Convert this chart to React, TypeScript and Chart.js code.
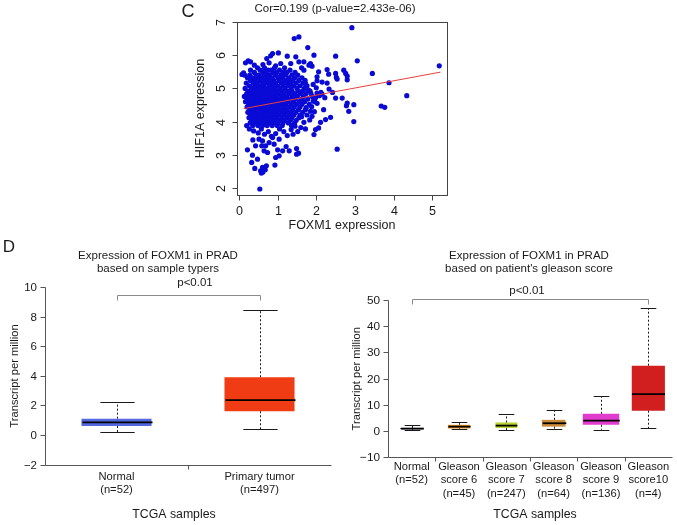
import React, { useEffect, useRef } from 'react';
import { Chart, registerables } from 'chart.js';

Chart.register(...registerables);

const FONT = '"Liberation Sans", Arial, Helvetica, sans-serif';
const W = 677;
const H = 525;

// ---------------- Panel C : scatter ----------------
const panelCLetter = 'C';
const corTitle = 'Cor=0.199 (p-value=2.433e-06)';
const cXLabel = 'FOXM1 expression';
const cYLabel = 'HIF1A expression';
const cXTicks = [0, 1, 2, 3, 4, 5];
const cYTicks = [2, 3, 4, 5, 6, 7];

// dense core, grouped by HIF1A value: [hif1a, foxm1 values]
const coreRows: [number, number[]][] = [
  [5.62, [0.48, 0.66, 0.92, 1.18]],
  [5.55, [0.30, 0.55, 0.75, 0.83, 1.05, 1.32]],
  [5.48, [0.40, 0.62, 0.70, 0.88, 0.97, 1.15, 1.24, 1.45]],
  [5.40, [0.28, 0.45, 0.52, 0.66, 0.79, 0.94, 1.08, 1.20, 1.37, 1.52]],
  [5.32, [0.22, 0.35, 0.49, 0.60, 0.73, 0.85, 1.01, 1.12, 1.29, 1.44, 1.63]],
  [5.24, [0.30, 0.42, 0.55, 0.68, 0.77, 0.90, 1.04, 1.17, 1.26, 1.39, 1.55, 1.71]],
  [5.16, [0.19, 0.37, 0.47, 0.61, 0.72, 0.83, 0.95, 1.10, 1.22, 1.33, 1.48, 1.66]],
  [5.08, [0.27, 0.41, 0.52, 0.64, 0.79, 0.88, 1.00, 1.14, 1.28, 1.41, 1.58, 1.76]],
  [5.00, [0.16, 0.33, 0.45, 0.57, 0.69, 0.81, 0.93, 1.06, 1.19, 1.35, 1.50, 1.69]],
  [4.92, [0.24, 0.38, 0.50, 0.62, 0.74, 0.86, 0.98, 1.11, 1.25, 1.37, 1.53, 1.64, 1.84]],
  [4.84, [0.20, 0.31, 0.44, 0.55, 0.67, 0.79, 0.91, 1.03, 1.16, 1.30, 1.44, 1.59, 1.73]],
  [4.76, [0.14, 0.27, 0.39, 0.51, 0.63, 0.75, 0.87, 0.99, 1.12, 1.24, 1.38, 1.51, 1.67, 1.90]],
  [4.68, [0.22, 0.35, 0.47, 0.58, 0.70, 0.82, 0.94, 1.07, 1.19, 1.33, 1.46, 1.62, 1.78]],
  [4.60, [0.17, 0.30, 0.42, 0.54, 0.66, 0.78, 0.90, 1.02, 1.15, 1.27, 1.41, 1.56, 1.70, 1.96]],
  [4.52, [0.25, 0.37, 0.49, 0.61, 0.72, 0.84, 0.97, 1.09, 1.21, 1.35, 1.49, 1.63, 1.82]],
  [4.44, [0.21, 0.33, 0.45, 0.57, 0.68, 0.80, 0.92, 1.04, 1.17, 1.30, 1.43, 1.58]],
  [4.36, [0.28, 0.40, 0.52, 0.64, 0.76, 0.88, 1.00, 1.13, 1.25, 1.39, 1.54, 1.72]],
  [4.28, [0.23, 0.35, 0.47, 0.59, 0.71, 0.83, 0.95, 1.08, 1.21, 1.34, 1.47, 1.65]],
  [4.20, [0.30, 0.42, 0.54, 0.66, 0.78, 0.90, 1.03, 1.16, 1.29, 1.42, 1.58]],
  [4.12, [0.26, 0.38, 0.50, 0.62, 0.74, 0.86, 0.98, 1.11, 1.24, 1.37, 1.55]],
  [4.04, [0.33, 0.45, 0.57, 0.69, 0.81, 0.93, 1.06, 1.19, 1.33, 1.48]],
  [3.96, [0.29, 0.41, 0.53, 0.65, 0.77, 0.89, 1.01, 1.14, 1.28, 1.44]],
  [3.88, [0.36, 0.49, 0.61, 0.73, 0.86, 0.99, 1.12, 1.36]],
];

// scattered points: [foxm1, hif1a]
const extraPoints: [number, number][] = [
  [2.92, 6.83], [1.43, 6.50], [1.55, 6.55], [1.78, 6.23], [0.87, 6.05], [1.02, 6.07],
  [1.25, 5.97], [1.47, 5.95], [0.30, 5.80], [0.24, 5.83], [0.17, 5.77], [0.12, 5.47],
  [0.08, 5.42], [0.15, 5.40], [0.78, 5.77], [0.95, 5.68], [1.08, 5.75], [1.34, 5.75],
  [1.55, 5.80], [1.68, 5.55], [1.94, 6.00], [2.50, 5.97], [3.06, 5.83], [1.85, 5.75],
  [1.89, 5.67], [1.81, 5.70], [1.68, 5.80], [2.06, 5.50], [2.28, 5.57], [2.32, 5.43],
  [2.50, 5.45], [2.71, 5.55], [2.76, 5.45], [2.80, 5.37], [3.45, 5.45], [2.02, 5.35],
  [2.52, 5.33], [0.40, 5.70], [0.62, 5.72], [0.72, 5.90], [0.82, 5.98], [1.62, 5.62],
  [5.18, 5.68], [3.88, 5.17], [4.34, 4.78], [3.68, 4.47], [3.77, 4.43], [2.97, 4.00],
  [2.02, 5.23], [2.15, 5.19], [2.28, 5.16], [2.54, 5.28], [2.80, 5.26], [2.02, 4.86],
  [2.15, 4.83], [2.50, 4.71], [2.67, 4.71], [2.80, 4.56], [2.84, 4.31], [2.97, 4.51],
  [2.19, 4.36], [2.37, 4.13], [2.24, 4.06], [2.11, 3.98], [1.98, 3.76], [2.06, 3.81],
  [1.94, 3.61], [1.85, 4.31], [1.89, 4.16], [2.42, 4.88], [2.33, 4.98], [2.78, 4.48],
  [1.72, 5.15], [1.80, 4.95], [1.86, 4.85], [1.92, 5.12], [1.98, 4.72], [2.02, 4.55],
  [1.88, 4.45], [2.08, 4.78], [1.95, 4.30], [1.76, 4.20], [1.83, 4.05], [1.68, 3.98],
  [1.62, 4.15], [1.74, 4.42], [1.92, 4.62], [2.12, 4.88], [2.22, 4.72], [2.00, 5.02],
  [0.20, 3.88], [0.27, 3.78], [0.38, 3.72], [0.50, 3.66], [0.58, 3.78], [0.66, 3.62],
  [0.76, 3.70], [0.84, 3.56], [0.95, 3.64], [1.05, 3.78], [1.16, 3.70], [1.25, 3.58],
  [1.35, 3.76], [1.45, 3.86], [1.52, 3.70], [1.60, 3.82], [1.72, 3.78], [1.40, 3.62],
  [0.22, 3.15], [0.36, 3.45], [0.35, 2.99], [0.33, 2.77], [0.41, 2.59], [0.48, 2.87],
  [0.61, 3.42], [0.59, 3.27], [0.65, 3.12], [0.74, 3.07], [0.69, 3.27], [0.78, 3.37],
  [0.61, 2.62], [0.65, 2.57], [0.56, 2.52], [0.71, 2.67], [0.54, 1.97], [0.95, 2.92],
  [0.93, 2.69], [1.04, 2.97], [1.00, 3.15], [0.91, 3.32], [1.04, 3.47], [0.87, 3.52],
  [1.30, 3.12], [1.49, 3.19], [1.54, 3.05], [1.49, 3.02], [0.52, 3.47], [0.43, 3.27],
  [0.62, 2.48], [1.13, 3.12], [1.22, 3.25], [2.54, 3.17], [0.58, 2.45], [0.68, 2.55],
];

const fitFoxm1 = [0.12, 5.21];
const fitHif1a = [4.39, 5.49];

// ---------------- Panel D left : sample types ----------------
const panelDLetter = 'D';
const typeTitle = ['Expression of FOXM1 in PRAD', 'based on sample typers'];
const typeLabels = [['Normal', '(n=52)'], ['Primary tumor', '(n=497)']];
const typeMin = [0.2, 0.4];
const typeQ1 = [0.6, 1.6];
const typeMed = [0.85, 2.35];
const typeQ3 = [1.1, 3.9];
const typeMax = [2.2, 8.45];
const typeYTicks = [-2, 0, 2, 4, 6, 8, 10];
const typeColors = ['#5468de', '#f03c14'];
const typeBoxFrac = [0.49, 0.49];

// ---------------- Panel D right : gleason score ----------------
const gleasonTitle = ['Expression of FOXM1 in PRAD', "based on patient's gleason score"];
const gleasonLabels = [
  ['Normal', '(n=52)'],
  ['Gleason', 'score 6', '(n=45)'],
  ['Gleason', 'score 7', '(n=247)'],
  ['Gleason', 'score 8', '(n=64)'],
  ['Gleason', 'score 9', '(n=136)'],
  ['Gleason', 'score10', '(n=4)'],
];
const gleasonMin = [0.2, 0.6, 0.3, 0.6, 0.4, 0.9];
const gleasonQ1 = [0.6, 0.9, 1.1, 1.6, 2.3, 7.7];
const gleasonMed = [0.85, 1.6, 2.0, 2.9, 3.9, 14.0];
const gleasonQ3 = [1.1, 2.3, 3.2, 4.2, 6.5, 24.9];
const gleasonMax = [2.2, 3.4, 6.3, 8.1, 13.2, 46.8];
const gleasonYTicks = [-10, 0, 10, 20, 30, 40, 50];
const gleasonColors = ['#1c2b6e', '#e08a1e', '#b8d430', '#c98a3a', '#e03ccd', '#d11f1f'];
const gleasonBoxFrac = [0.48, 0.47, 0.46, 0.5, 0.77, 0.7];

const pText = 'p<0.01';
const dXTitle = 'TCGA samples';
const dYTitle = 'Transcript per million';

function text(ctx: CanvasRenderingContext2D, s: string, x: number, y: number, size: number, align: CanvasTextAlign = 'center', color = '#1a1a1a') {
  ctx.font = `${size}px ${FONT}`;
  ctx.fillStyle = color;
  ctx.textAlign = align;
  ctx.textBaseline = 'middle';
  ctx.fillText(s, x, y);
}

function line(ctx: CanvasRenderingContext2D, x1: number, y1: number, x2: number, y2: number) {
  ctx.beginPath();
  ctx.moveTo(x1, y1);
  ctx.lineTo(x2, y2);
  ctx.stroke();
}

const scatterDecor = {
  id: 'scatterDecor',
  afterDraw(chart: any) {
    const { ctx, chartArea: a } = chart;
    const xs = chart.scales.x;
    const ys = chart.scales.y;
    ctx.save();
    ctx.strokeStyle = '#444';
    ctx.lineWidth = 1;
    const L = Math.round(a.left) + 0.5;
    const T = Math.round(a.top) + 0.5;
    const R = Math.round(a.right) + 0.5;
    const B = Math.round(a.bottom) + 0.5;
    ctx.strokeRect(L, T, R - L, B - T);
    cXTicks.forEach((v) => {
      const px = Math.round(xs.getPixelForValue(v)) + 0.5;
      line(ctx, px, B, px, B + 5);
      text(ctx, String(v), px, a.bottom + 17, 12.5);
    });
    line(ctx, Math.round(xs.getPixelForValue(cXTicks[0])) + 0.5, B, Math.round(xs.getPixelForValue(cXTicks[cXTicks.length - 1])) + 0.5, B);
    cYTicks.forEach((v) => {
      const py = Math.round(ys.getPixelForValue(v)) + 0.5;
      line(ctx, L, py, L - 5, py);
      ctx.save();
      ctx.translate(a.left - 15, py);
      ctx.rotate(-Math.PI / 2);
      text(ctx, String(v), 0, 0, 12.5);
      ctx.restore();
    });
    text(ctx, cXLabel, (a.left + a.right) / 2, a.bottom + 31, 12.5);
    ctx.save();
    ctx.translate(a.left - 36.5, (a.top + a.bottom) / 2);
    ctx.rotate(-Math.PI / 2);
    text(ctx, cYLabel, 0, 0, 12.5);
    ctx.restore();
    text(ctx, corTitle, 335, 9, 11.5);
    text(ctx, panelCLetter, 188, 12, 18);
    ctx.restore();
  },
};

interface BoxCfg {
  min: number[]; q1: number[]; med: number[]; q3: number[]; max: number[];
  boxFrac: number[]; capFrac: number; yTicks: number[]; labels: string[][];
  title: string[]; titleX: number; titleY: number[]; pX: number; pY: number;
  bracketValue: number; xTitleX: number; yTitleX: number;
  labelStart: number; labelGap: number; tickFont: number; labelFont: number;
  letter?: string;
}

function boxDecor(cfg: BoxCfg) {
  return {
    id: 'boxDecor',
    afterDatasetsDraw(chart: any) {
      const { ctx, chartArea: a } = chart;
      const xs = chart.scales.x;
      const ys = chart.scales.y;
      const n = cfg.q1.length;
      const cw = (a.right - a.left) / n;
      ctx.save();
      for (let i = 0; i < n; i++) {
        const cx = Math.round(xs.getPixelForValue(i)) + 0.5;
        const bw = cw * cfg.boxFrac[i];
        const capW = cw * cfg.capFrac;
        const yMin = ys.getPixelForValue(cfg.min[i]);
        const yQ1 = ys.getPixelForValue(cfg.q1[i]);
        const yMed = ys.getPixelForValue(cfg.med[i]);
        const yQ3 = ys.getPixelForValue(cfg.q3[i]);
        const yMax = ys.getPixelForValue(cfg.max[i]);
        ctx.strokeStyle = '#1a1a1a';
        ctx.lineWidth = 1;
        ctx.setLineDash([2, 2]);
        line(ctx, cx, yQ3, cx, yMax);
        line(ctx, cx, yQ1, cx, yMin);
        ctx.setLineDash([]);
        line(ctx, cx - capW / 2, Math.round(yMax) + 0.5, cx + capW / 2, Math.round(yMax) + 0.5);
        line(ctx, cx - capW / 2, Math.round(yMin) + 0.5, cx + capW / 2, Math.round(yMin) + 0.5);
        ctx.strokeStyle = '#000';
        ctx.lineWidth = 1.8;
        line(ctx, cx - bw / 2, yMed, cx + bw / 2, yMed);
      }
      ctx.restore();
    },
    afterDraw(chart: any) {
      const { ctx, chartArea: a } = chart;
      const xs = chart.scales.x;
      const ys = chart.scales.y;
      const n = cfg.q1.length;
      const cw = (a.right - a.left) / n;
      ctx.save();
      ctx.strokeStyle = '#555';
      ctx.lineWidth = 1;
      const L = Math.round(a.left) + 0.5;
      const B = Math.round(a.bottom) + 0.5;
      const yTop = Math.round(ys.getPixelForValue(cfg.yTicks[cfg.yTicks.length - 1])) + 0.5;
      line(ctx, L, yTop, L, B);
      line(ctx, L, B, Math.round(a.right) + 0.5, B);
      cfg.yTicks.forEach((v) => {
        const py = Math.round(ys.getPixelForValue(v)) + 0.5;
        line(ctx, L, py, L - 5, py);
        text(ctx, v < 0 ? '\u2212' + Math.abs(v) : String(v), a.left - 8, py, cfg.tickFont, 'right');
      });
      for (let i = 1; i < n; i++) {
        const px = Math.round(a.left + cw * i) + 0.5;
        line(ctx, px, B, px, B + 4);
      }
      cfg.labels.forEach((lines, i) => {
        const cx = xs.getPixelForValue(i);
        lines.forEach((s, k) => text(ctx, s, cx, a.bottom + cfg.labelStart + k * cfg.labelGap, cfg.labelFont));
      });
      text(ctx, dXTitle, cfg.xTitleX, 515, 12.3);
      ctx.save();
      ctx.translate(cfg.yTitleX, (yTop + a.bottom) / 2);
      ctx.rotate(-Math.PI / 2);
      text(ctx, dYTitle, 0, 0, 11.2);
      ctx.restore();
      cfg.title.forEach((s, k) => text(ctx, s, cfg.titleX, cfg.titleY[k], 11.5));
      text(ctx, pText, cfg.pX, cfg.pY, 11.5);
      // significance bracket between first and last group
      ctx.strokeStyle = '#8a8a8a';
      const by = Math.round(ys.getPixelForValue(cfg.bracketValue)) + 0.5;
      const x1 = Math.round(xs.getPixelForValue(0)) + 0.5;
      const x2 = Math.round(xs.getPixelForValue(n - 1)) + 0.5;
      ctx.beginPath();
      ctx.moveTo(x1, by + 5);
      ctx.lineTo(x1, by);
      ctx.lineTo(x2, by);
      ctx.lineTo(x2, by + 5);
      ctx.stroke();
      if (cfg.letter) text(ctx, cfg.letter, 9, 247, 17);
      ctx.restore();
    },
  };
}

function boxDatasets(q1: number[], q3: number[], colors: string[], frac: number[]) {
  return q1.map((_, i) => ({
    data: q1.map((v, j) => (j === i ? [v, q3[j]] : null)),
    backgroundColor: colors[i],
    borderWidth: 0,
    barPercentage: frac[i],
    categoryPercentage: 1,
    grouped: false,
  }));
}

export default function App() {
  const c1 = useRef<HTMLCanvasElement>(null);
  const c2 = useRef<HTMLCanvasElement>(null);
  const c3 = useRef<HTMLCanvasElement>(null);

  useEffect(() => {
    const points = [
      ...coreRows.flatMap(([y, xsArr]) => xsArr.map((x) => ({ x, y }))),
      ...extraPoints.map(([x, y]) => ({ x, y })),
    ];
    const scatter = new Chart(c1.current!, {
      type: 'scatter',
      data: {
        datasets: [
          {
            type: 'line',
            data: fitFoxm1.map((x, i) => ({ x, y: fitHif1a[i] })),
            borderColor: '#e8403c',
            borderWidth: 1,
            pointRadius: 0,
            order: 0,
          } as any,
          {
            data: points,
            backgroundColor: '#0a0ad6',
            borderWidth: 0,
            pointRadius: 2.6,
            order: 1,
          },
        ],
      },
      options: {
        animation: false,
        responsive: false,
        layout: { padding: { left: 237, top: 22, right: W - 447, bottom: H - 195 } },
        scales: {
          x: { type: 'linear', display: false, min: -0.05, max: 5.38 },
          y: { type: 'linear', display: false, min: 1.79, max: 7.0 },
        },
        plugins: { legend: { display: false }, tooltip: { enabled: false } },
      },
      plugins: [scatterDecor],
    });

    const types = new Chart(c2.current!, {
      type: 'bar',
      data: {
        labels: typeLabels.map((l) => l.join(' ')),
        datasets: boxDatasets(typeQ1, typeQ3, typeColors, typeBoxFrac) as any,
      },
      options: {
        animation: false,
        responsive: false,
        layout: { padding: { left: 45, top: 287, right: W - 331, bottom: H - 464.5 } },
        scales: {
          x: { type: 'category', display: false },
          y: { type: 'linear', display: false, min: -2, max: 10 },
        },
        plugins: { legend: { display: false }, tooltip: { enabled: false } },
      },
      plugins: [
        boxDecor({
          min: typeMin, q1: typeQ1, med: typeMed, q3: typeQ3, max: typeMax,
          boxFrac: typeBoxFrac, capFrac: 0.24, yTicks: typeYTicks, labels: typeLabels,
          title: typeTitle, titleX: 158, titleY: [256, 269], pX: 195, pY: 283,
          bracketValue: 9.43, xTitleX: 174, yTitleX: 15,
          labelStart: 12.5, labelGap: 12.5, tickFont: 11.5, labelFont: 11.2,
          letter: panelDLetter,
        }),
      ],
    });

    const gleason = new Chart(c3.current!, {
      type: 'bar',
      data: {
        labels: gleasonLabels.map((l) => l.join(' ')),
        datasets: boxDatasets(gleasonQ1, gleasonQ3, gleasonColors, gleasonBoxFrac) as any,
      },
      options: {
        animation: false,
        responsive: false,
        layout: { padding: { left: 388, top: 300, right: W - 672, bottom: H - 457 } },
        scales: {
          x: { type: 'category', display: false },
          y: { type: 'linear', display: false, min: -10, max: 50 },
        },
        plugins: { legend: { display: false }, tooltip: { enabled: false } },
      },
      plugins: [
        boxDecor({
          min: gleasonMin, q1: gleasonQ1, med: gleasonMed, q3: gleasonQ3, max: gleasonMax,
          boxFrac: gleasonBoxFrac, capFrac: 0.33, yTicks: gleasonYTicks, labels: gleasonLabels,
          title: gleasonTitle, titleX: 529, titleY: [256, 269], pX: 527, pY: 291,
          bracketValue: 50.4, xTitleX: 535, yTitleX: 356.5,
          labelStart: 10, labelGap: 13.3, tickFont: 11.8, labelFont: 11.2,
        }),
      ],
    });

    return () => {
      scatter.destroy();
      types.destroy();
      gleason.destroy();
    };
  }, []);

  const cs: React.CSSProperties = { position: 'absolute', left: 0, top: 0, width: W, height: H };
  return (
    <div style={{ position: 'absolute', left: 0, top: 0, width: W, height: H, background: '#fff' }}>
      <canvas ref={c1} width={W} height={H} style={cs} />
      <canvas ref={c2} width={W} height={H} style={cs} />
      <canvas ref={c3} width={W} height={H} style={cs} />
    </div>
  );
}
